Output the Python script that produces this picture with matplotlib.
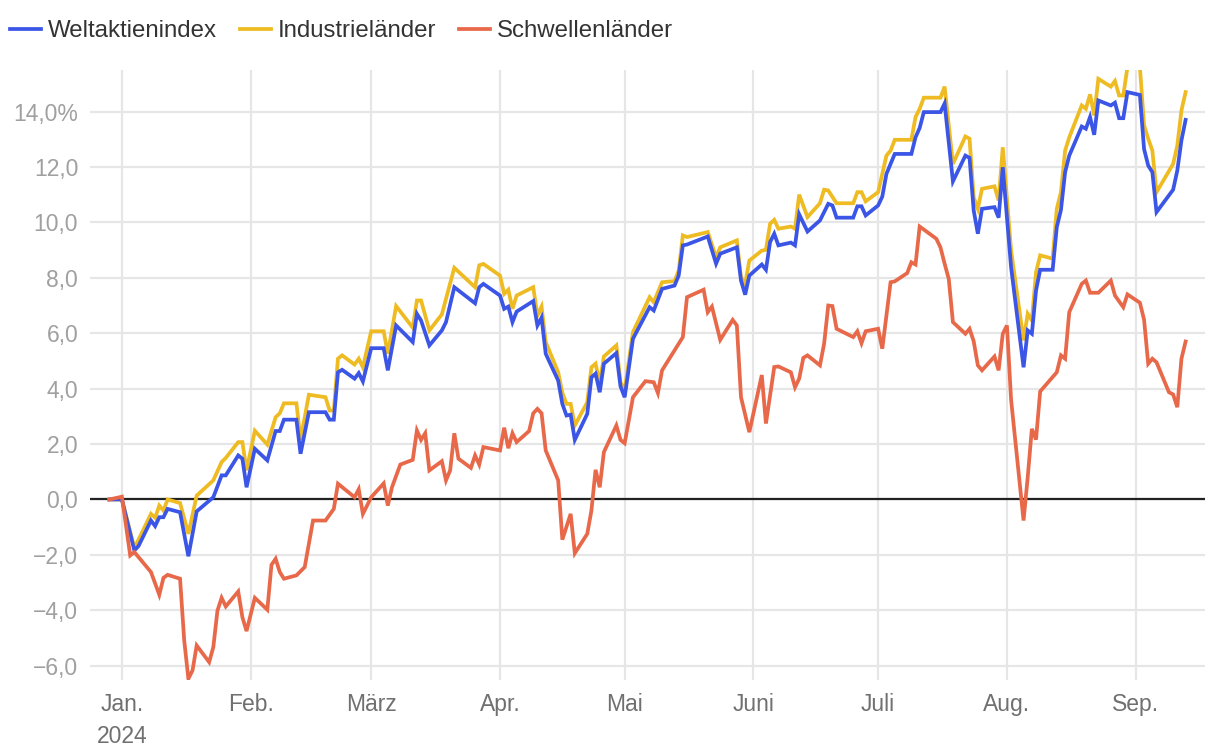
import matplotlib
matplotlib.use("Agg")
import matplotlib.pyplot as plt
import matplotlib.ticker as mticker
import pandas as pd

plt.rcParams['font.family'] = ['Liberation Sans', 'DejaVu Sans']

# Weltaktienindex
welt_dates = ["2023-12-29", "2024-01-01", "2024-01-04", "2024-01-05", "2024-01-08", "2024-01-09", "2024-01-10",
              "2024-01-11", "2024-01-12", "2024-01-15", "2024-01-17", "2024-01-19", "2024-01-23", "2024-01-25",
              "2024-01-26", "2024-01-29", "2024-01-30", "2024-01-31", "2024-02-02", "2024-02-05", "2024-02-07",
              "2024-02-08", "2024-02-09", "2024-02-12", "2024-02-13", "2024-02-15", "2024-02-19", "2024-02-20",
              "2024-02-21", "2024-02-22", "2024-02-23", "2024-02-26", "2024-02-27", "2024-02-28", "2024-03-01",
              "2024-03-04", "2024-03-05", "2024-03-07", "2024-03-11", "2024-03-12", "2024-03-13", "2024-03-15",
              "2024-03-18", "2024-03-19", "2024-03-21", "2024-03-26", "2024-03-27", "2024-03-28", "2024-04-01",
              "2024-04-02", "2024-04-03", "2024-04-04", "2024-04-05", "2024-04-09", "2024-04-10", "2024-04-11",
              "2024-04-12", "2024-04-15", "2024-04-16", "2024-04-17", "2024-04-18", "2024-04-19", "2024-04-22",
              "2024-04-23", "2024-04-24", "2024-04-25", "2024-04-26", "2024-04-29", "2024-04-30", "2024-05-01",
              "2024-05-03", "2024-05-07", "2024-05-08", "2024-05-10", "2024-05-13", "2024-05-14", "2024-05-15",
              "2024-05-16", "2024-05-21", "2024-05-23", "2024-05-24", "2024-05-28", "2024-05-29", "2024-05-30",
              "2024-05-31", "2024-06-03", "2024-06-04", "2024-06-05", "2024-06-06", "2024-06-07", "2024-06-10",
              "2024-06-11", "2024-06-12", "2024-06-14", "2024-06-17", "2024-06-19", "2024-06-20", "2024-06-21",
              "2024-06-25", "2024-06-26", "2024-06-27", "2024-06-28", "2024-07-01", "2024-07-02", "2024-07-03",
              "2024-07-05", "2024-07-09", "2024-07-10", "2024-07-11", "2024-07-12", "2024-07-16", "2024-07-17",
              "2024-07-19", "2024-07-22", "2024-07-23", "2024-07-24", "2024-07-25", "2024-07-26", "2024-07-29",
              "2024-07-30", "2024-07-31", "2024-08-02", "2024-08-05", "2024-08-06", "2024-08-07", "2024-08-08",
              "2024-08-09", "2024-08-12", "2024-08-13", "2024-08-14", "2024-08-15", "2024-08-16", "2024-08-19",
              "2024-08-20", "2024-08-21", "2024-08-22", "2024-08-23", "2024-08-26", "2024-08-27", "2024-08-28",
              "2024-08-29", "2024-08-30", "2024-09-02", "2024-09-03", "2024-09-04", "2024-09-05", "2024-09-06",
              "2024-09-10", "2024-09-11", "2024-09-12", "2024-09-13"]
welt_vals = [0.0, 0.0, -1.84, -1.68, -0.76, -0.96, -0.64,
             -0.64, -0.34, -0.46, -2.05, -0.43, 0.08, 0.87,
             0.87, 1.59, 1.47, 0.44, 1.83, 1.41, 2.47,
             2.47, 2.88, 2.88, 1.65, 3.15, 3.15, 2.88,
             2.88, 4.59, 4.68, 4.36, 4.56, 4.26, 5.46,
             5.46, 4.66, 6.28, 5.68, 6.70, 6.46, 5.56,
             6.10, 6.40, 7.66, 7.08, 7.66, 7.78, 7.36,
             6.88, 6.96, 6.40, 6.78, 7.16, 6.28, 6.56,
             5.26, 4.29, 3.45, 3.03, 3.06, 2.15, 3.09,
             4.41, 4.54, 3.87, 4.90, 5.28, 4.08, 3.69,
             5.80, 6.94, 6.82, 7.60, 7.72, 8.08, 9.17,
             9.20, 9.49, 8.51, 8.87, 9.10, 7.90, 7.39,
             8.08, 8.48, 8.29, 9.29, 9.59, 9.17, 9.27,
             9.17, 10.29, 9.67, 10.07, 10.67, 10.61, 10.17,
             10.17, 10.58, 10.58, 10.25, 10.61, 10.93, 11.75,
             12.47, 12.47, 13.07, 13.41, 13.98, 13.98, 14.29,
             11.48, 12.41, 12.33, 10.43, 9.59, 10.49, 10.55,
             10.17, 11.99, 8.38, 4.77, 6.10, 5.98, 7.54,
             8.29, 8.29, 9.83, 10.45, 11.81, 12.41, 13.46,
             13.38, 13.80, 13.16, 14.40, 14.22, 14.32, 13.76,
             13.76, 14.70, 14.60, 12.65, 12.05, 11.81, 10.37,
             11.18, 11.87, 12.96, 13.70]

# Industrielaender
indus_dates = ["2023-12-29", "2024-01-01", "2024-01-04", "2024-01-05", "2024-01-08", "2024-01-09", "2024-01-10",
               "2024-01-11", "2024-01-12", "2024-01-15", "2024-01-17", "2024-01-19", "2024-01-23", "2024-01-25",
               "2024-01-26", "2024-01-29", "2024-01-30", "2024-01-31", "2024-02-02", "2024-02-05", "2024-02-07",
               "2024-02-08", "2024-02-09", "2024-02-12", "2024-02-13", "2024-02-15", "2024-02-19", "2024-02-20",
               "2024-02-21", "2024-02-22", "2024-02-23", "2024-02-26", "2024-02-27", "2024-02-28", "2024-03-01",
               "2024-03-04", "2024-03-05", "2024-03-07", "2024-03-11", "2024-03-12", "2024-03-13", "2024-03-15",
               "2024-03-18", "2024-03-21", "2024-03-26", "2024-03-27", "2024-03-28", "2024-04-01", "2024-04-02",
               "2024-04-03", "2024-04-04", "2024-04-05", "2024-04-09", "2024-04-10", "2024-04-11", "2024-04-12",
               "2024-04-15", "2024-04-16", "2024-04-17", "2024-04-18", "2024-04-19", "2024-04-22", "2024-04-23",
               "2024-04-24", "2024-04-25", "2024-04-26", "2024-04-29", "2024-04-30", "2024-05-01", "2024-05-03",
               "2024-05-07", "2024-05-08", "2024-05-10", "2024-05-13", "2024-05-14", "2024-05-15", "2024-05-16",
               "2024-05-21", "2024-05-23", "2024-05-24", "2024-05-28", "2024-05-29", "2024-05-30", "2024-05-31",
               "2024-06-03", "2024-06-04", "2024-06-05", "2024-06-06", "2024-06-07", "2024-06-10", "2024-06-11",
               "2024-06-12", "2024-06-14", "2024-06-17", "2024-06-18", "2024-06-19", "2024-06-21", "2024-06-25",
               "2024-06-26", "2024-06-27", "2024-06-28", "2024-07-01", "2024-07-03", "2024-07-04", "2024-07-05",
               "2024-07-09", "2024-07-10", "2024-07-11", "2024-07-12", "2024-07-16", "2024-07-17", "2024-07-19",
               "2024-07-22", "2024-07-23", "2024-07-24", "2024-07-25", "2024-07-26", "2024-07-29", "2024-07-30",
               "2024-07-31", "2024-08-02", "2024-08-05", "2024-08-06", "2024-08-07", "2024-08-08", "2024-08-09",
               "2024-08-12", "2024-08-13", "2024-08-14", "2024-08-15", "2024-08-16", "2024-08-19", "2024-08-20",
               "2024-08-21", "2024-08-22", "2024-08-23", "2024-08-26", "2024-08-27", "2024-08-28", "2024-08-29",
               "2024-08-30", "2024-09-02", "2024-09-03", "2024-09-04", "2024-09-05", "2024-09-06", "2024-09-10",
               "2024-09-11", "2024-09-12", "2024-09-13"]
indus_vals = [0.0, 0.0, -1.75, -1.45, -0.52, -0.66, -0.22,
              -0.40, 0.0, -0.13, -1.24, 0.14, 0.69, 1.35,
              1.50, 2.07, 2.07, 1.05, 2.48, 1.98, 2.97,
              3.11, 3.47, 3.47, 2.15, 3.78, 3.69, 3.21,
              3.21, 5.08, 5.20, 4.87, 5.08, 4.77, 6.07,
              6.07, 5.26, 6.98, 6.20, 7.18, 7.18, 6.10,
              6.68, 8.36, 7.66, 8.45, 8.50, 8.08, 7.42,
              7.57, 6.88, 7.36, 7.66, 6.64, 6.96, 5.68,
              4.59, 3.85, 3.45, 3.45, 2.67, 3.51, 4.77,
              4.90, 4.20, 5.16, 5.56, 4.23, 3.93, 6.04,
              7.30, 7.12, 7.84, 7.88, 8.26, 9.53, 9.47,
              9.65, 8.74, 9.10, 9.35, 8.02, 7.78, 8.62,
              8.98, 9.01, 9.95, 10.09, 9.77, 9.85, 9.77,
              11.00, 10.19, 10.69, 11.18, 11.15, 10.69, 10.69,
              11.09, 11.09, 10.76, 11.09, 12.41, 12.59, 12.98,
              12.98, 13.80, 14.10, 14.50, 14.50, 14.90, 12.11,
              13.10, 13.02, 10.90, 10.49, 11.21, 11.30, 10.79,
              12.71, 8.99, 5.74, 6.70, 6.46, 8.20, 8.81,
              8.69, 10.49, 11.09, 12.59, 13.07, 14.22, 14.10,
              14.62, 13.86, 15.18, 14.90, 15.10, 14.58, 14.58,
              15.60, 15.60, 13.50, 13.02, 12.59, 11.09, 12.11,
              12.77, 14.04, 14.70]

# Schwellenlaender
schw_dates = ["2023-12-29", "2024-01-01", "2024-01-03", "2024-01-04", "2024-01-08", "2024-01-10", "2024-01-11",
              "2024-01-12", "2024-01-15", "2024-01-16", "2024-01-17", "2024-01-18", "2024-01-19", "2024-01-22",
              "2024-01-23", "2024-01-24", "2024-01-25", "2024-01-26", "2024-01-29", "2024-01-30", "2024-01-31",
              "2024-02-02", "2024-02-05", "2024-02-06", "2024-02-07", "2024-02-08", "2024-02-09", "2024-02-12",
              "2024-02-13", "2024-02-14", "2024-02-16", "2024-02-19", "2024-02-21", "2024-02-22", "2024-02-26",
              "2024-02-27", "2024-02-28", "2024-03-01", "2024-03-04", "2024-03-05", "2024-03-06", "2024-03-08",
              "2024-03-11", "2024-03-12", "2024-03-13", "2024-03-14", "2024-03-15", "2024-03-18", "2024-03-19",
              "2024-03-20", "2024-03-21", "2024-03-22", "2024-03-25", "2024-03-26", "2024-03-27", "2024-03-28",
              "2024-04-01", "2024-04-02", "2024-04-03", "2024-04-04", "2024-04-05", "2024-04-08", "2024-04-09",
              "2024-04-10", "2024-04-11", "2024-04-12", "2024-04-15", "2024-04-16", "2024-04-18", "2024-04-19",
              "2024-04-22", "2024-04-23", "2024-04-24", "2024-04-25", "2024-04-26", "2024-04-29", "2024-04-30",
              "2024-05-01", "2024-05-03", "2024-05-06", "2024-05-08", "2024-05-09", "2024-05-10", "2024-05-15",
              "2024-05-16", "2024-05-20", "2024-05-21", "2024-05-22", "2024-05-24", "2024-05-27", "2024-05-28",
              "2024-05-29", "2024-05-31", "2024-06-03", "2024-06-04", "2024-06-06", "2024-06-07", "2024-06-10",
              "2024-06-11", "2024-06-12", "2024-06-13", "2024-06-14", "2024-06-17", "2024-06-18", "2024-06-19",
              "2024-06-20", "2024-06-21", "2024-06-25", "2024-06-26", "2024-06-27", "2024-06-28", "2024-07-01",
              "2024-07-02", "2024-07-04", "2024-07-05", "2024-07-08", "2024-07-09", "2024-07-10", "2024-07-11",
              "2024-07-15", "2024-07-16", "2024-07-17", "2024-07-18", "2024-07-19", "2024-07-22", "2024-07-23",
              "2024-07-24", "2024-07-25", "2024-07-26", "2024-07-29", "2024-07-30", "2024-07-31", "2024-08-01",
              "2024-08-02", "2024-08-05", "2024-08-06", "2024-08-07", "2024-08-08", "2024-08-09", "2024-08-13",
              "2024-08-14", "2024-08-15", "2024-08-16", "2024-08-19", "2024-08-20", "2024-08-21", "2024-08-23",
              "2024-08-26", "2024-08-27", "2024-08-29", "2024-08-30", "2024-09-02", "2024-09-03", "2024-09-04",
              "2024-09-05", "2024-09-06", "2024-09-09", "2024-09-10", "2024-09-11", "2024-09-12", "2024-09-13"]
schw_vals = [0.0, 0.10, -2.02, -1.90, -2.62, -3.44, -2.83,
             -2.72, -2.86, -5.09, -6.47, -6.17, -5.27, -5.87,
             -5.33, -4.01, -3.55, -3.86, -3.32, -4.25, -4.75,
             -3.55, -3.98, -2.36, -2.14, -2.62, -2.86, -2.74,
             -2.59, -2.44, -0.76, -0.76, -0.34, 0.57, 0.08,
             0.37, -0.52, 0.08, 0.58, -0.22, 0.44, 1.26,
             1.43, 2.49, 2.15, 2.39, 1.05, 1.38, 0.69,
             1.05, 2.39, 1.47, 1.14, 1.59, 1.26, 1.89,
             1.77, 2.59, 1.85, 2.39, 2.07, 2.47, 3.11,
             3.27, 3.11, 1.77, 0.69, -1.45, -0.52, -1.94,
             -1.24, -0.40, 1.07, 0.44, 1.71, 2.67, 2.15,
             2.03, 3.69, 4.27, 4.23, 3.84, 4.66, 5.86,
             7.30, 7.57, 6.76, 6.96, 5.76, 6.48, 6.28,
             3.69, 2.43, 4.49, 2.74, 4.78, 4.80, 4.59,
             4.05, 4.36, 5.11, 5.20, 4.84, 5.62, 7.00,
             6.98, 6.16, 5.86, 6.07, 5.64, 6.07, 6.16,
             5.44, 7.84, 7.87, 8.17, 8.56, 8.48, 9.85,
             9.41, 9.10, 8.51, 7.96, 6.40, 5.98, 6.16,
             5.71, 4.84, 4.66, 5.16, 4.66, 5.98, 6.28,
             3.60, -0.76, 0.80, 2.55, 2.16, 3.90, 4.59,
             5.20, 5.08, 6.76, 7.78, 7.90, 7.46, 7.46,
             7.90, 7.36, 6.94, 7.40, 7.10, 6.49, 4.90,
             5.08, 4.95, 3.87, 3.79, 3.33, 5.08, 5.70]

month_ticks = ["2024-01-01", "2024-02-01", "2024-03-01", "2024-04-01", "2024-05-01",
               "2024-06-01", "2024-07-01", "2024-08-01", "2024-09-01"]
month_labels = ["Jan.\n2024", "Feb.", "März", "Apr.", "Mai", "Juni", "Juli", "Aug.", "Sep."]
y_ticks = [-6, -4, -2, 0, 2, 4, 6, 8, 10, 12, 14]

BLUE = "#3b56e6"
YELLOW = "#eebb22"
ORANGE = "#e8694a"

fig = plt.figure(figsize=(12.2, 7.54), dpi=100)
ax = fig.add_axes([0.0738, 0.0987, 0.9139, 0.8085])

ax.axhline(0, color="#222222", lw=1.6, zorder=2)
l2, = ax.plot(pd.to_datetime(indus_dates), indus_vals, color=YELLOW, lw=2.7, zorder=3,
              label="Industrieländer", solid_joinstyle="miter")
l1, = ax.plot(pd.to_datetime(welt_dates), welt_vals, color=BLUE, lw=2.7, zorder=4,
              label="Weltaktienindex", solid_joinstyle="miter")
l3, = ax.plot(pd.to_datetime(schw_dates), schw_vals, color=ORANGE, lw=2.7, zorder=5,
              label="Schwellenländer", solid_joinstyle="miter")

ax.set_xlim(pd.Timestamp("2023-12-24 08:00"), pd.Timestamp("2024-09-17 16:00"))
ax.set_ylim(-6.5, 15.5)

ax.set_yticks(y_ticks)
def yfmt(v, pos):
    s = f"{abs(v):.1f}".replace(".", ",")
    if v < 0:
        s = "\u2212" + s
    if v == 14:
        s += "%"
    return s
ax.yaxis.set_major_formatter(mticker.FuncFormatter(yfmt))
ax.set_xticks(pd.to_datetime(month_ticks))
ax.set_xticklabels(month_labels)

ax.grid(True, color="#e6e6e6", lw=1.6, zorder=0)
ax.set_axisbelow(True)
for s in ax.spines.values():
    s.set_visible(False)
ax.tick_params(axis="y", length=0, pad=8.5, labelsize=16.5, labelcolor="#a0a0a0")
ax.tick_params(axis="x", length=0, pad=10, labelsize=16.5, labelcolor="#707070")
for lbl in ax.get_xticklabels():
    lbl.set_linespacing(1.45)

fig.legend(handles=[l1, l2, l3], loc="center left", bbox_to_anchor=(0.0082, 0.959),
           ncol=3, frameon=False, fontsize=17.3, handlelength=1.3, handletextpad=0.28,
           columnspacing=0.95, borderpad=0, borderaxespad=0, labelcolor="#333333")

fig.savefig("out.png", dpi=100)
